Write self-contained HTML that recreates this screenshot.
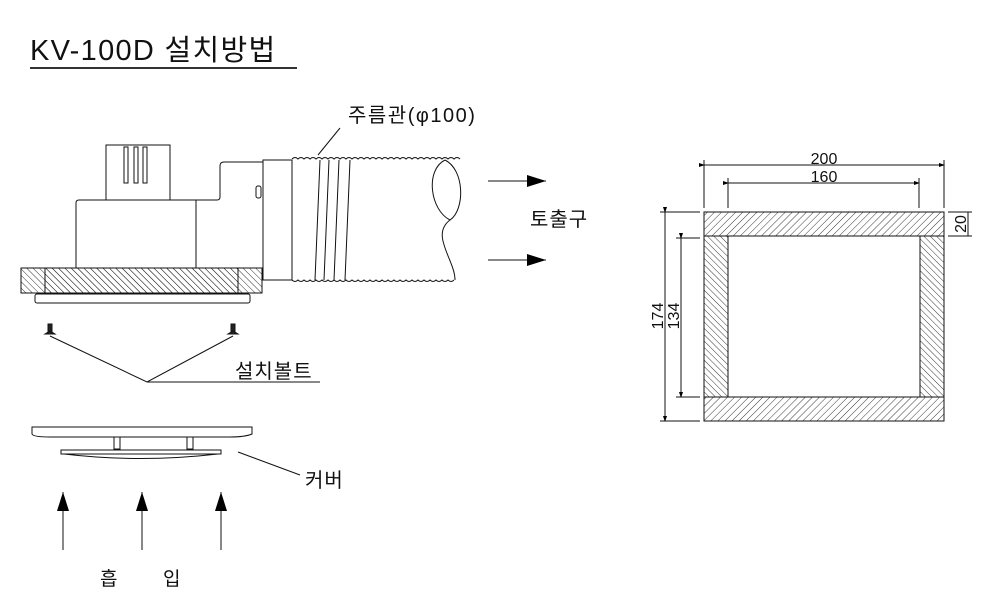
<!DOCTYPE html>
<html><head><meta charset="utf-8"><style>
html,body{margin:0;padding:0;background:#fff;}
svg{display:block;}
text{font-family:"Liberation Sans","Noto Sans CJK KR",sans-serif;fill:#111;}
</style></head><body>
<svg width="989" height="615" viewBox="0 0 989 615" xmlns="http://www.w3.org/2000/svg">
<defs>
<pattern id="h1" patternUnits="userSpaceOnUse" width="5" height="5" patternTransform="rotate(45)"><line x1="0" y1="0" x2="0" y2="5" stroke="#222" stroke-width="0.9"/></pattern>
<pattern id="h2" patternUnits="userSpaceOnUse" width="4.5" height="4.5" patternTransform="rotate(-45)"><line x1="0" y1="0" x2="0" y2="4.5" stroke="#222" stroke-width="0.9"/></pattern>
<marker id="ah" markerWidth="20" markerHeight="14" refX="19" refY="6" orient="auto" markerUnits="userSpaceOnUse"><path d="M0,0 L19,6 L0,12 z" fill="#000"/></marker>
<marker id="sa" markerWidth="6" markerHeight="6" refX="5" refY="3" orient="auto" markerUnits="userSpaceOnUse"><path d="M0,1 L6,3 L0,5 z" fill="#000"/></marker>
</defs>
<text x="30" y="60" font-size="29" letter-spacing="1.3">KV-100D 설치방법</text>
<line x1="30" y1="68" x2="297" y2="68" stroke="#333" stroke-width="2"/>

<g stroke="#111" stroke-width="1" fill="none">
<rect x="106" y="145" width="64" height="55" fill="#fff"/>
<rect x="124" y="147" width="4" height="36"/><rect x="134" y="147" width="4" height="36"/><rect x="143" y="147" width="4" height="36"/>
<path d="M76,268 V203 Q76,200 79,200 H217 Q220,200 220,197 V166 Q220,162 224,162 H263 V280"/>
<line x1="196" y1="200" x2="196" y2="268"/>
<rect x="256" y="186" width="5" height="12" rx="2"/>
<rect x="263" y="160" width="29" height="120" fill="#fff"/>
<path d="M292,159 q3,-3 6,0 q3,-3 6,0 q3,-3 6,0 q3,-3 6,0 q3,-3 6,0 q3,-3 6,0 q3,-3 6,0 q3,-3 6,0 q3,-3 6,0 q3,-3 6,0 q3,-3 6,0 q3,-3 6,0 q3,-3 6,0 q3,-3 6,0 q3,-3 6,0 q3,-3 6,0 q3,-3 6,0 q3,-3 6,0 q3,-3 6,0 q3,-3 6,0 q3,-3 6,0 q3,-3 6,0 q3,-3 6,0 q3,-3 6,0 q3,-3 6,0 q3,-3 6,0 q3,-3 6,0 q3,-3 6,0"/>
<path d="M292,280 q3,3 6,0 q3,3 6,0 q3,3 6,0 q3,3 6,0 q3,3 6,0 q3,3 6,0 q3,3 6,0 q3,3 6,0 q3,3 6,0 q3,3 6,0 q3,3 6,0 q3,3 6,0 q3,3 6,0 q3,3 6,0 q3,3 6,0 q3,3 6,0 q3,3 6,0 q3,3 6,0 q3,3 6,0 q3,3 6,0 q3,3 6,0 q3,3 6,0 q3,3 6,0 q3,3 6,0 q3,3 6,0 q3,3 6,0 q3,3 6,0"/>
<line x1="320" y1="160" x2="315" y2="280"/><line x1="329" y1="160" x2="324" y2="280"/><line x1="339" y1="160" x2="334" y2="280"/><line x1="350" y1="160" x2="345" y2="280"/>
<path d="M445,160 C425,170 430,210 450,220 C430,235 455,260 455,280"/>
<path d="M445,160 C465,170 465,210 450,220"/>
<line x1="318" y1="155" x2="340" y2="128"/>
<rect x="21" y="268" width="241" height="25" fill="url(#h2)"/>
<rect x="45" y="268" width="193" height="25" fill="url(#h2)"/>
<rect x="35" y="294" width="215" height="9" rx="2" fill="#fff"/>
<rect x="48" y="324" width="4" height="8" fill="#222"/><path d="M45,334 h10 l-5,-3z" fill="#222"/>
<rect x="231" y="324" width="4" height="8" fill="#222"/><path d="M228,334 h10 l-5,-3z" fill="#222"/>
<polyline points="50,336 147,382 233,336"/>
<line x1="147" y1="382" x2="320" y2="382"/>
<path d="M32,427 H252 V434 Q245,437 230,437 H50 Q33,437 32,434 Z"/>
<rect x="114" y="437" width="6" height="12"/><rect x="187" y="437" width="6" height="12"/>
<rect x="61" y="450" width="160" height="4"/>
<path d="M64,454 Q140,463 218,454"/>
<line x1="238" y1="452" x2="300" y2="475"/>
<line x1="63" y1="550" x2="63" y2="492" marker-end="url(#ah)"/>
<line x1="142" y1="550" x2="142" y2="492" marker-end="url(#ah)"/>
<line x1="221" y1="550" x2="221" y2="492" marker-end="url(#ah)"/>
<line x1="488" y1="181" x2="546" y2="181" marker-end="url(#ah)"/>
<line x1="488" y1="260" x2="546" y2="260" marker-end="url(#ah)"/>

<rect x="704" y="212" width="240" height="24" fill="url(#h1)"/>
<rect x="704" y="397" width="240" height="24" fill="url(#h1)"/>
<rect x="704" y="236" width="24" height="161" fill="url(#h2)"/>
<rect x="920" y="236" width="24" height="161" fill="url(#h2)"/>
<rect x="704" y="212" width="240" height="209"/>
<rect x="728" y="236" width="192" height="161"/>
<line x1="704" y1="236" x2="728" y2="236"/><line x1="920" y1="236" x2="944" y2="236"/>
<line x1="704" y1="397" x2="728" y2="397"/><line x1="920" y1="397" x2="944" y2="397"/>
<line x1="704" y1="160" x2="704" y2="208"/><line x1="944" y1="160" x2="944" y2="208"/>
<line x1="704" y1="165" x2="944" y2="165" marker-start="url(#sa)" marker-end="url(#sa)"/>
<line x1="728" y1="178" x2="728" y2="208"/><line x1="919" y1="178" x2="919" y2="208"/>
<line x1="728" y1="183" x2="919" y2="183" marker-start="url(#sa)" marker-end="url(#sa)"/>
<line x1="660" y1="212" x2="700" y2="212"/><line x1="660" y1="421" x2="700" y2="421"/>
<line x1="665" y1="212" x2="665" y2="421" marker-start="url(#sa)" marker-end="url(#sa)"/>
<line x1="676" y1="238" x2="700" y2="238"/><line x1="676" y1="397" x2="700" y2="397"/>
<line x1="681" y1="238" x2="681" y2="397" marker-start="url(#sa)" marker-end="url(#sa)"/>
<line x1="948" y1="212" x2="972" y2="212"/><line x1="948" y1="236" x2="972" y2="236"/>
<line x1="968" y1="212" x2="968" y2="236"/>
</g>
<text x="824" y="164" font-size="16" text-anchor="middle">200</text>
<text x="824" y="182" font-size="16" text-anchor="middle">160</text>
<text transform="translate(663,316) rotate(-90)" font-size="16" text-anchor="middle">174</text>
<text transform="translate(679,316) rotate(-90)" font-size="16" text-anchor="middle">134</text>
<text transform="translate(966,224) rotate(-90)" font-size="16" text-anchor="middle">20</text>

<text x="348" y="122" font-size="20" letter-spacing="1.5">주름관(φ100)</text>
<text x="530" y="226" font-size="20" letter-spacing="1">토출구</text>
<text x="235" y="378" font-size="20" letter-spacing="1">설치볼트</text>
<text x="305" y="487" font-size="20" letter-spacing="1">커버</text>
<text x="100" y="585" font-size="19">흡</text>
<text x="163" y="585" font-size="19">입</text>
</svg>
</body></html>
